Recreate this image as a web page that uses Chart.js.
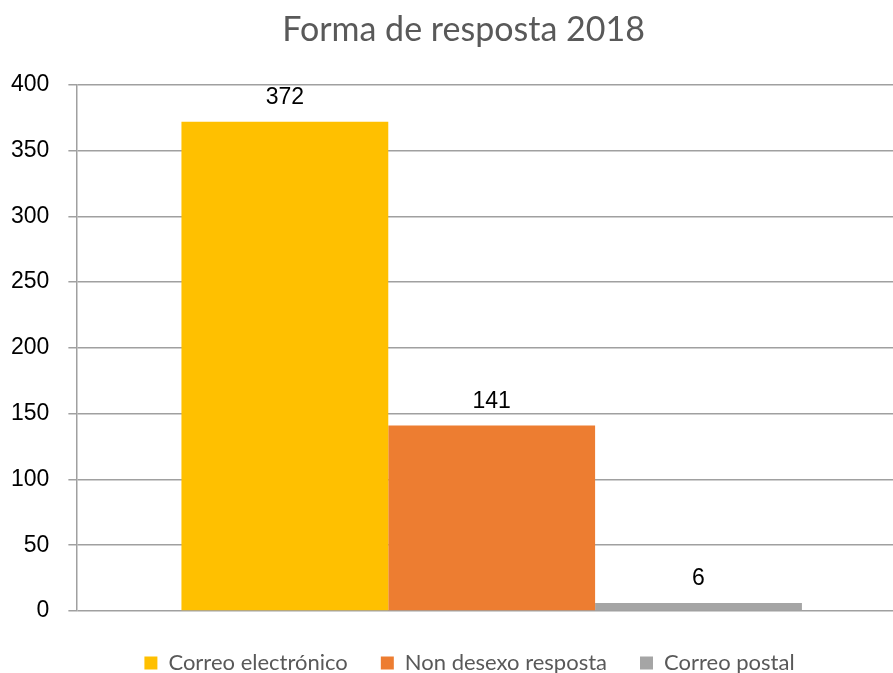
<!DOCTYPE html>
<html>
<head>
<meta charset="utf-8">
<script src="https://cdn.jsdelivr.net/npm/chart.js@4"></script>
<style>
  html, body { margin: 0; padding: 0; background: #fff; overflow: hidden; }
  #wrap { position: relative; width: 928px; height: 684px; }
</style>
</head>
<body>
<div id="wrap"><canvas id="myChart"></canvas></div>
<script>
var title = 'Forma de resposta 2018';
var seriesNames = ['Correo electrónico', 'Non desexo resposta', 'Correo postal'];
var seriesValues = [372, 141, 6];
var seriesColors = ['#FFC000', '#ED7D31', '#A5A5A5'];
var yTicks = [0, 50, 100, 150, 200, 250, 300, 350, 400];

var gridColor = 'rgb(160,160,160)';

// draws the value above each bar
var valueLabels = {
    id: 'valueLabels',
    afterDatasetsDraw: function (chart) {
        var c = chart.ctx;
        c.save();
        c.font = '23px "Liberation Sans", Arial, sans-serif';
        c.fillStyle = '#000';
        c.textAlign = 'center';
        c.textBaseline = 'middle';
        chart.data.datasets.forEach(function (ds, i) {
            chart.getDatasetMeta(i).data.forEach(function (bar, j) {
                c.fillText(String(ds.data[j]), bar.x, bar.y - 24);
            });
        });
        c.restore();
    }
};

// nudge title and legend to the right, like the original
var nudge = {
    id: 'nudge',
    afterLayout: function (chart) {
        if (chart.titleBlock) {
            chart.titleBlock.left += 14;
            chart.titleBlock.right += 14;
        }
        if (chart.legend) {
            chart.legend.left += 20;
            chart.legend.right += 20;
        }
    }
};

var ctx = document.getElementById('myChart').getContext('2d');
var myChart = new Chart(ctx, {
    type: 'bar',
    data: {
        labels: [''],
        datasets: seriesNames.map(function (name, i) {
            return {
                label: name,
                data: [seriesValues[i]],
                backgroundColor: seriesColors[i],
                borderWidth: 0,
                categoryPercentage: 0.747,
                barPercentage: 1
            };
        })
    },
    options: {
        responsive: true,
        maintainAspectRatio: false,
        animation: false,
        layout: { padding: { left: -8, right: 21, top: 10, bottom: 0 } },
        plugins: {
            title: {
                display: true,
                text: title,
                color: '#595959',
                font: { family: 'Lato, "Open Sans", sans-serif', size: 34, weight: 'normal' },
                padding: { top: 0, bottom: 34 }
            },
            legend: {
                position: 'bottom',
                labels: {
                    color: '#595959',
                    boxWidth: 13,
                    boxHeight: 13,
                    padding: 33,
                    font: { family: 'Lato, "Open Sans", sans-serif', size: 22 }
                }
            },
            tooltip: { enabled: false }
        },
        scales: {
            x: {
                grid: { display: false },
                border: { display: false },
                ticks: { display: false }
            },
            y: {
                min: 0,
                max: 400,
                afterBuildTicks: function (axis) {
                    axis.ticks = yTicks.map(function (v) { return { value: v }; });
                },
                grid: { color: gridColor, lineWidth: 1.5, tickLength: 8 },
                border: { color: gridColor, width: 1.5 },
                ticks: {
                    color: '#000',
                    padding: 19,
                    font: { family: '"Liberation Sans", Arial, sans-serif', size: 23 }
                }
            }
        }
    },
    plugins: [valueLabels, nudge]
});
</script>
</body>
</html>
